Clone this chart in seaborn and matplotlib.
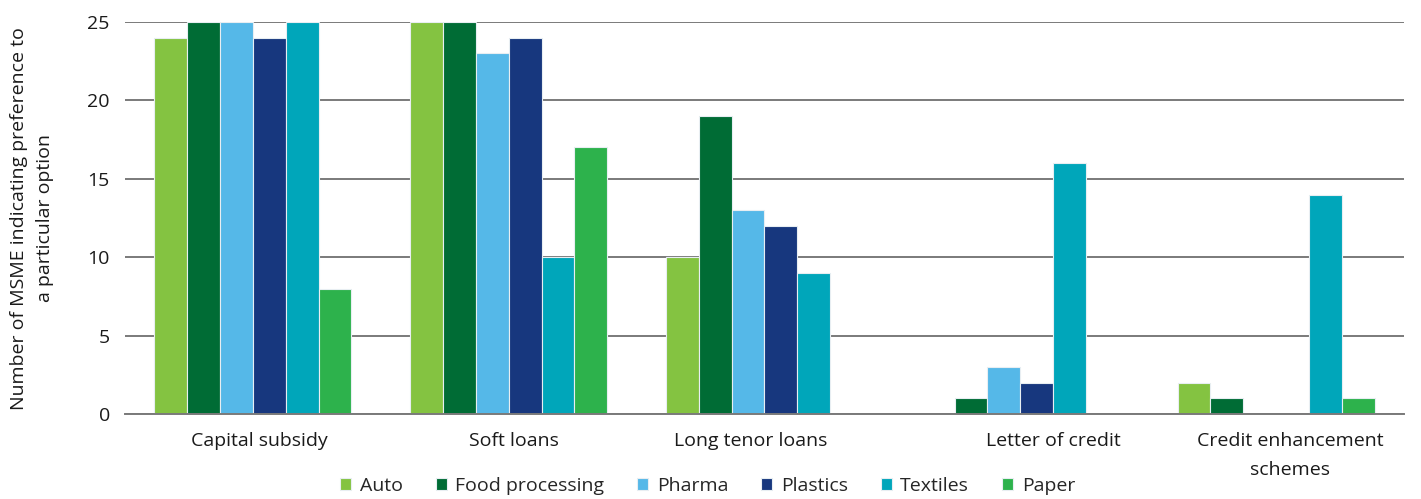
import matplotlib
matplotlib.use("Agg")
import matplotlib.pyplot as plt
import seaborn as sns
import pandas as pd

# Financing options and the sectors surveyed
categories = ["Capital subsidy", "Soft loans", "Long tenor loans",
              "Letter of credit", "Credit enhancement\nschemes"]
sectors = ["Auto", "Food processing", "Pharma", "Plastics", "Textiles", "Paper"]

auto = [24, 25, 10, 0, 2]
food_processing = [25, 25, 19, 1, 1]
pharma = [25, 23, 13, 3, 0]
plastics = [24, 24, 12, 2, 0]
textiles = [25, 10, 9, 16, 14]
paper = [8, 17, 0, 0, 1]

colors = ["#84C341", "#006C35", "#55B8E8", "#17377E", "#00A6BA", "#2DB24C"]

series = [auto, food_processing, pharma, plastics, textiles, paper]
rows = []
for sector, vals in zip(sectors, series):
    for cat, v in zip(categories, vals):
        rows.append({"Option": cat, "Sector": sector, "Count": v})
df = pd.DataFrame(rows)

sns.set_theme(style="white")
plt.rcParams["font.family"] = ["Open Sans", "DejaVu Sans"]

FS = 14
fig = plt.figure(figsize=(14.21, 4.99), dpi=100)
ax = fig.add_axes([0.088, 0.170, 0.900, 0.786])

sns.barplot(data=df, x="Option", y="Count", hue="Sector", order=categories,
            hue_order=sectors, palette=colors, width=0.77, saturation=1,
            edgecolor="#e8eef2", linewidth=0.8, ax=ax, errorbar=None)

ax.set_ylim(0, 25)
ax.set_yticks([0, 5, 10, 15, 20, 25])
ax.yaxis.grid(True, color="#7a7a7a", linewidth=1.4)
ax.set_axisbelow(True)
for side in ["top", "right", "left"]:
    ax.spines[side].set_visible(False)
ax.spines["bottom"].set_color("#7a7a7a")
ax.spines["bottom"].set_linewidth(1.4)
ax.tick_params(axis="both", length=0, labelsize=FS, colors="#1a1a1a")
ax.tick_params(axis="y", pad=11)
ax.tick_params(axis="x", pad=13)

# category labels sit slightly off the group centres
offsets = [0.027, 0.02, -0.055, 0.13, 0.055]
ax.set_xticks([i + o for i, o in enumerate(offsets)])
ax.set_xticklabels(categories, linespacing=1.75)
ax.set_xlabel("")
ax.set_ylabel("Number of MSME indicating preference to\na particular option",
              fontsize=FS, color="#1a1a1a", labelpad=24, linespacing=1.55)
ax.set_xlim(-0.5, 4.5)

handles, labels = ax.get_legend_handles_labels()
ax.get_legend().remove()
fig.legend(handles, labels, loc="center", bbox_to_anchor=(0.498, 0.026),
           ncol=6, frameon=False, fontsize=FS, handlelength=0.55,
           handleheight=0.55, handletextpad=0.45, columnspacing=1.7,
           borderpad=0.1)

fig.savefig("out.png", dpi=100)
